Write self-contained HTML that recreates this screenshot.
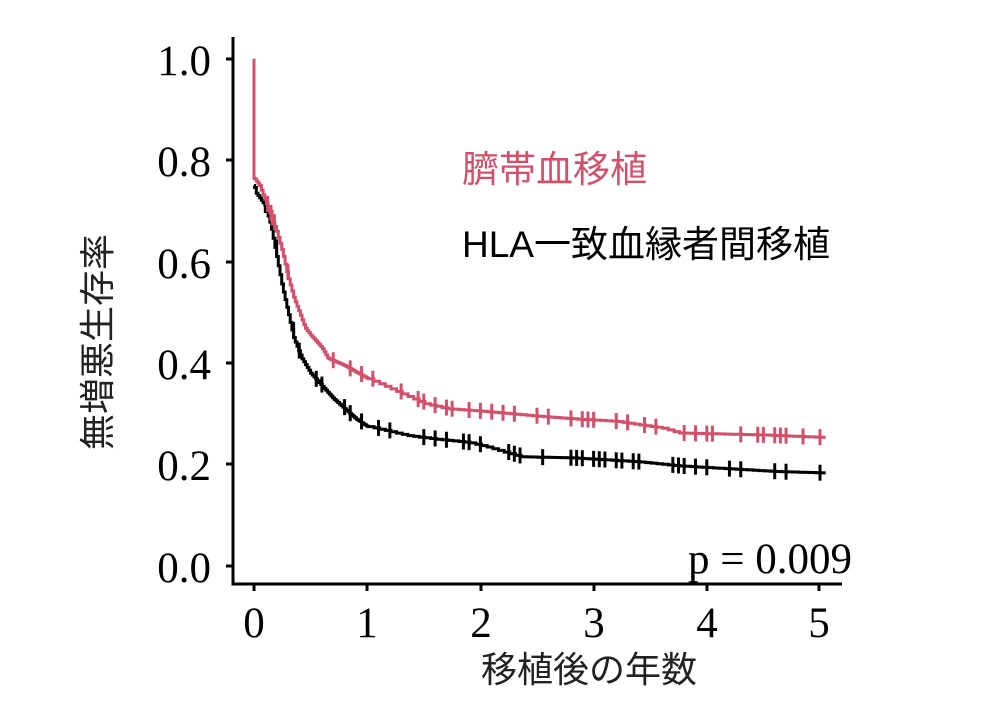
<!DOCTYPE html>
<html><head><meta charset="utf-8"><style>
html,body{margin:0;padding:0;background:#fff;}
svg{display:block;}
.s{font-family:"Liberation Serif","Noto Serif CJK SC",serif;}
.j{font-family:"Liberation Sans","Noto Sans CJK JP",sans-serif;}
</style></head><body>
<svg id="c" width="989" height="719" viewBox="0 0 989 719" xmlns="http://www.w3.org/2000/svg">
<rect width="989" height="719" fill="#fff"/>
<g stroke="#000" stroke-width="3" fill="none">
<line x1="233" y1="37" x2="233" y2="585"/>
<line x1="231.5" y1="584" x2="842" y2="584"/>
<line x1="226" y1="59" x2="233" y2="59"/>
<line x1="226" y1="160" x2="233" y2="160"/>
<line x1="226" y1="262" x2="233" y2="262"/>
<line x1="226" y1="363" x2="233" y2="363"/>
<line x1="226" y1="464" x2="233" y2="464"/>
<line x1="226" y1="566" x2="233" y2="566"/>
<line x1="254" y1="584" x2="254" y2="591"/>
<line x1="367" y1="584" x2="367" y2="591"/>
<line x1="481" y1="584" x2="481" y2="591"/>
<line x1="594" y1="584" x2="594" y2="591"/>
<line x1="707" y1="584" x2="707" y2="591"/>
<line x1="819" y1="584" x2="819" y2="591"/>
</g>
<g class="s" font-size="43" text-anchor="end" fill="#000">
<text x="211" y="75">1.0</text><text x="211" y="176">0.8</text><text x="211" y="278">0.6</text>
<text x="211" y="379">0.4</text><text x="211" y="480">0.2</text><text x="211" y="582">0.0</text>
</g>
<g class="s" font-size="43" text-anchor="middle" fill="#000">
<text x="254" y="637">0</text><text x="367" y="637">1</text><text x="481" y="637">2</text>
<text x="594" y="637">3</text><text x="707" y="637">4</text><text x="819" y="637">5</text>
</g>
<text class="s" x="852" y="573" font-size="43" text-anchor="end">p = 0.009</text>
<text class="j" x="589" y="682" font-size="36" text-anchor="middle" fill="#222">移植後の年数</text>
<text class="j" font-size="36" fill="#222" text-anchor="middle" transform="translate(110,342) rotate(-90)">無増悪生存率</text>
<text class="j" x="462" y="182" font-size="37" fill="#d4506a">臍帯血移植</text>
<text class="j" x="462" y="257" font-size="37" fill="#000">HLA一致血縁者間移植</text>
<g id="curves"></g>
</svg>
<script>
var X=function(t){return 254+113.2*t},Y=function(v){return 565.8-507*v};
function interp(pts,t){for(var i=1;i<pts.length;i++){if(t<=pts[i][0]){var a=pts[i-1],b=pts[i];return a[1]+(b[1]-a[1])*(t-a[0])/(b[0]-a[0]);}}return pts[pts.length-1][1];}
function build(pts,color,cens,start){
 var steps=[];var t0=0.005;
 for(var t=t0;t<=5.05;t+=(t<1?0.015:0.05)){steps.push([t,interp(pts,t)]);}
 var d="M"+X(0)+","+Y(start)+" V"+Y(pts[0][1]);
 steps.forEach(function(p){d+=" H"+X(p[0]).toFixed(1)+" V"+Y(p[1]).toFixed(1);});
 d+=" H"+X(5.05);
 var s='<path d="'+d+'" stroke="'+color+'" stroke-width="3" fill="none"/>';
 function val(t){var v=pts[0][1];steps.forEach(function(p){if(p[0]<=t)v=p[1];});return v;}
 cens.forEach(function(t){var x=X(t),y=Y(val(t));s+='<line x1="'+x+'" y1="'+(y-8)+'" x2="'+x+'" y2="'+(y+8)+'" stroke="'+color+'" stroke-width="3"/>';});
 return s;}
var red=[[0,0.765],[0.05,0.75],[0.1,0.72],[0.15,0.69],[0.2,0.66],[0.25,0.62],[0.3,0.57],[0.35,0.53],[0.4,0.5],[0.45,0.47],[0.5,0.455],[0.6,0.43],[0.65,0.41],[0.8,0.395],[1.0,0.37],[1.2,0.35],[1.35,0.335],[1.5,0.32],[1.7,0.31],[2.0,0.305],[2.4,0.297],[2.8,0.29],[3.2,0.285],[3.4,0.278],[3.6,0.272],[3.75,0.262],[4.5,0.258],[5.05,0.253]];
var blk=[[0,0.75],[0.02,0.735],[0.1,0.71],[0.15,0.67],[0.2,0.61],[0.25,0.55],[0.3,0.5],[0.35,0.45],[0.42,0.41],[0.5,0.38],[0.6,0.355],[0.7,0.33],[0.8,0.31],[0.9,0.29],[1.0,0.275],[1.2,0.265],[1.35,0.257],[1.6,0.25],[1.9,0.243],[2.05,0.235],[2.2,0.225],[2.35,0.215],[2.8,0.213],[3.4,0.205],[3.75,0.197],[4.6,0.186],[5.05,0.183]];
var rc=[0.12,0.15,0.16,0.18,0.3,0.7,0.85,0.95,1.05,1.3,1.45,1.5,1.6,1.7,1.75,1.9,2.0,2.1,2.2,2.3,2.5,2.6,2.8,2.9,2.95,3.0,3.2,3.3,3.45,3.55,3.8,3.9,4.0,4.05,4.3,4.45,4.5,4.6,4.65,4.7,4.85,5.0];
var bc=[0.1,0.2,0.35,0.4,0.55,0.6,0.8,0.85,0.95,1.1,1.2,1.5,1.6,1.7,1.85,1.9,2.0,2.25,2.3,2.35,2.55,2.8,2.85,2.9,3.0,3.05,3.1,3.2,3.25,3.35,3.4,3.7,3.75,3.8,3.9,4.0,4.2,4.3,4.6,4.7,5.0];
document.getElementById("curves").innerHTML=build(blk,"#000",bc,0.75)+build(red,"#d4506a",rc,1.0);
</script>
</body></html>
